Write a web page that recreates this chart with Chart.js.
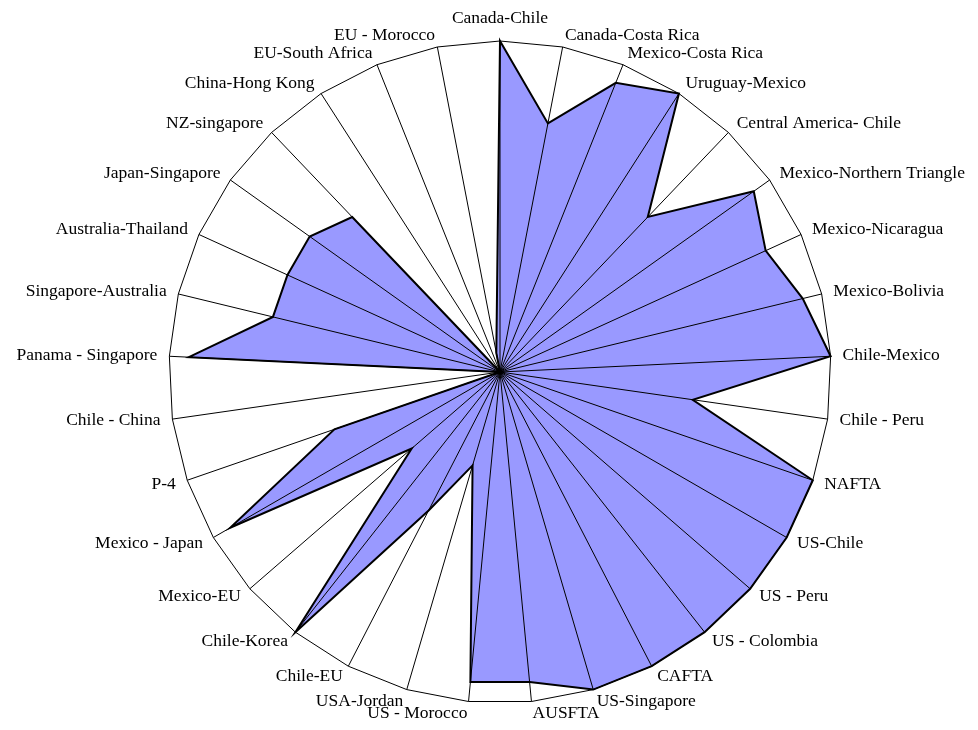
<!DOCTYPE html>
<html>
<head>
<meta charset="utf-8">
<script src="https://cdn.jsdelivr.net/npm/chart.js@4/dist/chart.umd.min.js"></script>
<style>
html,body{margin:0;padding:0;background:#fff;}
#wrap{width:978px;height:730px;}
</style>
</head>
<body>
<div id="wrap"><canvas id="c" width="978" height="730"></canvas></div>
<script>
const categories = [
  "Canada-Chile", "Canada-Costa Rica", "Mexico-Costa Rica", "Uruguay-Mexico",
  "Central America- Chile", "Mexico-Northern Triangle", "Mexico-Nicaragua",
  "Mexico-Bolivia", "Chile-Mexico", "Chile - Peru", "NAFTA", "US-Chile",
  "US - Peru", "US - Colombia", "CAFTA", "US-Singapore", "AUSFTA",
  "US - Morocco", "USA-Jordan", "Chile-EU", "Chile-Korea", "Mexico-EU",
  "Mexico - Japan", "P-4", "Chile - China", "Panama - Singapore",
  "Singapore-Australia", "Australia-Thailand", "Japan-Singapore",
  "NZ-singapore", "China-Hong Kong", "EU-South Africa", "EU - Morocco"
];
const scores = [
  17, 13, 16, 17,
  11, 16, 15,
  16, 17, 10, 17, 17,
  17, 17, 17, 17, 16,
  16, 5, 8, 17, 6,
  16, 9, 0, 16,
  12, 12, 12,
  11, 0, 0, 1
];
const scaleMin = 0;
const scaleMax = 17;

const LABEL_PAD = 12;
const GEOM = { cx: 500, cy: 372, r: 331 };

// Fix the plot geometry and center point labels vertically on their anchors
function adjustRadial(scale) {
  const items = scale._pointLabelItems;
  if (!items) return;
  const n = items.length;
  const oldPos = items.map((_, i) => scale.getPointPosition(i, scale.drawingArea + LABEL_PAD));
  scale.xCenter = GEOM.cx;
  scale.yCenter = GEOM.cy;
  scale.drawingArea = GEOM.r;
  items.forEach((it, i) => {
    const np = scale.getPointPosition(i, GEOM.r + LABEL_PAD);
    let dx = np.x - oldPos[i].x;
    let dy = np.y - oldPos[i].y;
    if (i !== 0) {
      const h = it.bottom - it.top;
      const deg = (i * 360 / n) % 360;
      if (deg < 90 || deg > 270) dy += h / 2;
      else if (deg > 90 && deg < 270) dy -= h / 2;
    }
    it.x += dx; it.left += dx; it.right += dx;
    it.y += dy; it.top += dy; it.bottom += dy;
  });
}

new Chart(document.getElementById('c'), {
  type: 'radar',
  data: {
    labels: categories,
    datasets: [{
      data: scores,
      backgroundColor: '#9999FF',
      borderColor: '#000000',
      borderWidth: 2,
      fill: true,
      pointRadius: 0,
      pointHoverRadius: 0,
      tension: 0
    }]
  },
  options: {
    responsive: false,
    animation: false,
    events: [],
    plugins: { legend: { display: false }, tooltip: { enabled: false } },
    scales: {
      r: {
        min: scaleMin,
        max: scaleMax,
        afterFit: adjustRadial,
        ticks: { display: false, stepSize: scaleMax },
        grid: { color: '#000000', lineWidth: 1, z: 1 },
        angleLines: { color: '#000000', lineWidth: 1 },
        pointLabels: {
          color: '#000000',
          padding: LABEL_PAD,
          font: { family: 'Liberation Serif', size: 17.5 }
        }
      }
    }
  }
});
</script>
</body>
</html>
